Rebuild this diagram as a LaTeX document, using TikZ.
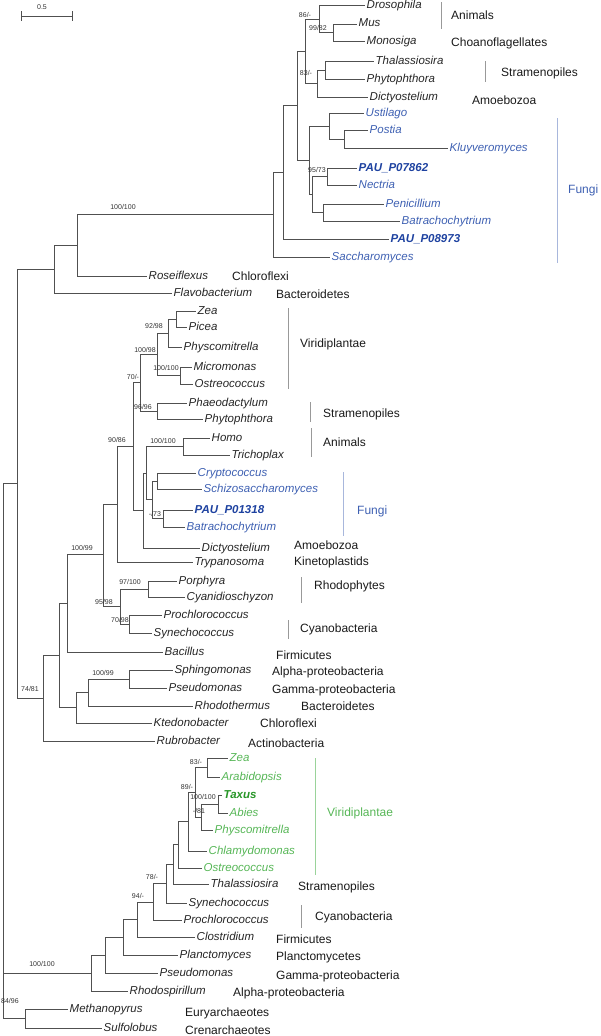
\documentclass[tikz,border=0pt]{standalone}
\usepackage{fontspec}
\setmainfont{Liberation Sans}
\usepackage{xcolor}
\usepackage{tikz}
\definecolor{fungiblue}{RGB}{62,96,178}
\definecolor{paublue}{RGB}{30,66,160}
\definecolor{plantgreen}{RGB}{86,182,86}
\definecolor{taxusgreen}{RGB}{40,150,40}
\definecolor{branchgray}{RGB}{80,80,80}

\begin{document}
\begin{tikzpicture}[x=1pt,y=-1pt,
  branch/.style={draw=branchgray,line width=0.8pt},
  taxon/.style={anchor=west,inner sep=1.5pt,text height=8.5pt,text depth=2.5pt,
    font=\fontsize{11.5}{12}\selectfont\itshape,text=black!85},
  fungus/.style={taxon,text=fungiblue},
  pau/.style={taxon,text=paublue,font=\fontsize{11.5}{12}\selectfont\bfseries\itshape},
  plant/.style={taxon,text=plantgreen},
  taxus/.style={taxon,text=taxusgreen,font=\fontsize{11.5}{12}\selectfont\bfseries\itshape},
  group/.style={anchor=west,inner sep=0pt,font=\fontsize{12}{13}\selectfont,text=black!90},
  boot/.style={inner sep=0pt,font=\fontsize{7}{7}\selectfont,text=black!80},
  bar/.style={draw=black!40,line width=0.8pt}]
  \useasboundingbox (0,0) rectangle (600,1036);

  % scale bar
  \draw[branch] (21,16) -- (72,16);
  \draw[branch] (21,11) -- (21,21);
  \draw[branch] (72,11) -- (72,21);
  \node[boot] (scale) at (42,7) {0.5};

  % upper clade: taxa
  \node[taxon] (dros) at (365,5.5) {Drosophila};
  \node[taxon] (mus) at (357,24) {Mus};
  \node[taxon] (monosiga) at (365,41) {Monosiga};
  \node[taxon] (thal1) at (374,61) {Thalassiosira};
  \node[taxon] (phyt1) at (365,79) {Phytophthora};
  \node[taxon] (dicty1) at (368,97) {Dictyostelium};
  \node[fungus] (ustilago) at (364,113) {Ustilago};
  \node[fungus] (postia) at (368,130) {Postia};
  \node[fungus] (kluyv) at (448,148) {Kluyveromyces};
  \node[pau] (pau7862) at (357,168) {PAU\_P07862};
  \node[fungus] (nectria) at (357,185) {Nectria};
  \node[fungus] (penic) at (384,204) {Penicillium};
  \node[fungus] (batr1) at (400,221) {Batrachochytrium};
  \node[pau] (pau8973) at (389,239) {PAU\_P08973};
  \node[fungus] (sacch) at (330,257) {Saccharomyces};
  \node[taxon] (roseif) at (147,276) {Roseiflexus};
  \node[taxon] (flavo) at (172,293) {Flavobacterium};

  % middle clade: taxa
  \node[taxon] (zea1) at (196,311) {Zea};
  \node[taxon] (picea) at (187,327) {Picea};
  \node[taxon] (physco1) at (182,347) {Physcomitrella};
  \node[taxon] (micro) at (192,367) {Micromonas};
  \node[taxon] (ostreo1) at (193,384) {Ostreococcus};
  \node[taxon] (phaeo) at (187,403) {Phaeodactylum};
  \node[taxon] (phyt2) at (203,419) {Phytophthora};
  \node[taxon] (homo) at (210,438) {Homo};
  \node[taxon] (tricho) at (230,455) {Trichoplax};
  \node[fungus] (crypto) at (196,473) {Cryptococcus};
  \node[fungus] (schizo) at (202,489) {Schizosaccharomyces};
  \node[pau] (pau1318) at (193,510) {PAU\_P01318};
  \node[fungus] (batr2) at (185,527) {Batrachochytrium};
  \node[taxon] (dicty2) at (200,548) {Dictyostelium};
  \node[taxon] (trypano) at (193,562) {Trypanosoma};
  \node[taxon] (porphyra) at (177,581) {Porphyra};
  \node[taxon] (cyanid) at (185,597) {Cyanidioschyzon};
  \node[taxon] (prochl1) at (162,615) {Prochlorococcus};
  \node[taxon] (synech1) at (152,633) {Synechococcus};
  \node[taxon] (bacillus) at (163,652) {Bacillus};
  \node[taxon] (sphingo) at (173,670) {Sphingomonas};
  \node[taxon] (pseudo1) at (167,688) {Pseudomonas};
  \node[taxon] (rhodoth) at (193,706) {Rhodothermus};
  \node[taxon] (ktedono) at (152,723) {Ktedonobacter};
  \node[taxon] (rubro) at (155,741) {Rubrobacter};

  % lower clade: taxa
  \node[plant] (zea2) at (228,758) {Zea};
  \node[plant] (arabid) at (220,777) {Arabidopsis};
  \node[taxus] (taxus) at (222,795) {Taxus};
  \node[plant] (abies) at (228,813) {Abies};
  \node[plant] (physco2) at (213,830) {Physcomitrella};
  \node[plant] (chlamy) at (207,851) {Chlamydomonas};
  \node[plant] (ostreo2) at (202,868) {Ostreococcus};
  \node[taxon] (thal2) at (209,884) {Thalassiosira};
  \node[taxon] (synech2) at (187,903) {Synechococcus};
  \node[taxon] (prochl2) at (182,920) {Prochlorococcus};
  \node[taxon] (clostr) at (195,937) {Clostridium};
  \node[taxon] (plancto) at (178,955) {Planctomyces};
  \node[taxon] (pseudo2) at (158,973) {Pseudomonas};
  \node[taxon] (rhodosp) at (128,991) {Rhodospirillum};
  \node[taxon] (methano) at (68,1009) {Methanopyrus};
  \node[taxon] (sulfo) at (102,1028) {Sulfolobus};

  % internal nodes
  \coordinate (n1) at (333,32.5);
  \coordinate (n2) at (319,19);
  \coordinate (n3) at (325,70);
  \coordinate (n4) at (317,83.5);
  \coordinate (n5) at (305,51.25);
  \coordinate (n6) at (344,139);
  \coordinate (n7) at (329,126);
  \coordinate (n8) at (327,176.5);
  \coordinate (n9) at (323,212.5);
  \coordinate (n10) at (312,194.5);
  \coordinate (n11) at (309,160.25);
  \coordinate (n12) at (297,105.75);
  \coordinate (n13) at (283,172.4);
  \coordinate (n14) at (273,214.7);
  \coordinate (n15) at (77,245.35);
  \coordinate (n16) at (54,269.2);
  \coordinate (n17) at (17,483.75);
  \coordinate (m1) at (176,319);
  \coordinate (m2) at (168,333);
  \coordinate (m3) at (180,375.5);
  \coordinate (m4) at (157,354.25);
  \coordinate (m5) at (157,411);
  \coordinate (m6) at (140,382.5);
  \coordinate (m7) at (183,446.5);
  \coordinate (m8) at (157,481);
  \coordinate (m9) at (163,518.5);
  \coordinate (m10) at (152,499.75);
  \coordinate (m11) at (146,473.25);
  \coordinate (m12) at (143,510.5);
  \coordinate (m13) at (133,446.5);
  \coordinate (m14) at (117,504.25);
  \coordinate (m15) at (148,589);
  \coordinate (m16) at (129,624);
  \coordinate (m17) at (120,606.5);
  \coordinate (m18) at (103,554.75);
  \coordinate (m19) at (67,603.5);
  \coordinate (m20) at (129,679);
  \coordinate (m21) at (88,692.5);
  \coordinate (m22) at (76,707.75);
  \coordinate (m23) at (59,655.75);
  \coordinate (m24) at (43,698.5);
  \coordinate (b1) at (207,767.5);
  \coordinate (b2) at (218,804);
  \coordinate (b3) at (201,817);
  \coordinate (b4) at (195,792.25);
  \coordinate (b5) at (188,821.6);
  \coordinate (b6) at (178,844.8);
  \coordinate (b7) at (173,864.4);
  \coordinate (b8) at (166,883.7);
  \coordinate (b9) at (153,901.9);
  \coordinate (b10) at (137,919.4);
  \coordinate (b11) at (123,937.2);
  \coordinate (b12) at (105,955.1);
  \coordinate (b13) at (91,973);
  \coordinate (b14) at (25,1018.5);
  \coordinate (root) at (3,483.75);

  % branches
  \foreach \p/\c in {n1/mus,n1/monosiga,n2/dros,n2/n1,n3/thal1,n3/phyt1,n4/n3,n4/dicty1,
      n5/n2,n5/n4,n6/postia,n6/kluyv,n7/ustilago,n7/n6,n8/pau7862,n8/nectria,
      n9/penic,n9/batr1,n10/n8,n10/n9,n11/n7,n11/n10,n12/n5,n12/n11,
      n13/n12,n13/pau8973,n14/n13,n14/sacch,n15/n14,n15/roseif,n16/n15,n16/flavo,
      n17/n16,n17/m24,root/n17,root/b13,root/b14}
    \draw[branch] (\p) |- (\c);
  \foreach \p/\c in {m1/zea1,m1/picea,m2/m1,m2/physco1,m3/micro,m3/ostreo1,m4/m2,m4/m3,
      m5/phaeo,m5/phyt2,m6/m4,m6/m5,m7/homo,m7/tricho,m8/crypto,m8/schizo,
      m9/pau1318,m9/batr2,m10/m8,m10/m9,m11/m7,m11/m10,m12/m11,m12/dicty2,
      m13/m6,m13/m12,m14/m13,m14/trypano,m15/porphyra,m15/cyanid,
      m16/prochl1,m16/synech1,m17/m15,m17/m16,m18/m14,m18/m17,m19/m18,m19/bacillus,
      m20/sphingo,m20/pseudo1,m21/m20,m21/rhodoth,m22/m21,m22/ktedono,
      m23/m19,m23/m22,m24/m23,m24/rubro}
    \draw[branch] (\p) |- (\c);
  \foreach \p/\c in {b1/zea2,b1/arabid,b2/taxus,b2/abies,b3/b2,b3/physco2,b4/b1,b4/b3,
      b5/b4,b5/chlamy,b6/b5,b6/ostreo2,b7/b6,b7/thal2,b8/b7,b8/synech2,
      b9/b8,b9/prochl2,b10/b9,b10/clostr,b11/b10,b11/plancto,b12/b11,b12/pseudo2,
      b13/b12,b13/rhodosp,b14/methano,b14/sulfo}
    \draw[branch] (\p) |- (\c);

  % bootstrap values
  \foreach \t/\x/\y [count=\i] in {{86/-}/305/15,{99/82}/318/28,{83/-}/306/73,{95/73}/317/170,
      {100/100}/123/207,{92/98}/154/326,{100/98}/145/350,{100/100}/166/368,{70/-}/133/377,
      {96/96}/143/407,{90/86}/117/440,{100/100}/163/441,{-/73}/155/514,{100/99}/82/548,
      {97/100}/130/582,{95/98}/104/602,{70/98}/120/620,{100/99}/103/673,{74/81}/30/689,
      {83/-}/196/762,{89/-}/187/787,{100/100}/203/797,{-/81}/199/811,{78/-}/152/877,
      {94/-}/138/896,{100/100}/42/964}
    \node[boot] (bs\i) at (\x,\y) {\t};
  \node[boot,anchor=west] (bs27) at (1,1001) {84/96};

  % group bars
  \draw[bar] (441,2) -- (441,29);
  \draw[bar] (485,61) -- (485,82);
  \draw[bar,draw=fungiblue!45] (557,118) -- (557,263);
  \draw[bar] (288,308) -- (288,389);
  \draw[bar] (310,402) -- (310,422);
  \draw[bar] (311,428) -- (311,457);
  \draw[bar,draw=fungiblue!45] (343,472) -- (343,536);
  \draw[bar] (301,577) -- (301,603);
  \draw[bar] (288,620) -- (288,639);
  \draw[bar,draw=plantgreen!60] (315,758) -- (315,875);
  \draw[bar] (301,905) -- (301,928);

  % group names
  \node[group] (g1) at (451,15) {Animals};
  \node[group] (g2) at (451,43) {Choanoflagellates};
  \node[group] (g3) at (501,73) {Stramenopiles};
  \node[group] (g4) at (472,100) {Amoebozoa};
  \node[group,text=fungiblue] (g5) at (568,190) {Fungi};
  \node[group] (g6) at (232,276) {Chloroflexi};
  \node[group] (g7) at (276,294) {Bacteroidetes};
  \node[group] (g8) at (300,344) {Viridiplantae};
  \node[group] (g9) at (323,414) {Stramenopiles};
  \node[group] (g10) at (323,442) {Animals};
  \node[group,text=fungiblue] (g11) at (357,511) {Fungi};
  \node[group] (g12) at (294,545) {Amoebozoa};
  \node[group] (g13) at (294,562) {Kinetoplastids};
  \node[group] (g14) at (314,586) {Rhodophytes};
  \node[group] (g15) at (300,629) {Cyanobacteria};
  \node[group] (g16) at (276,655) {Firmicutes};
  \node[group] (g17) at (272,672) {Alpha-proteobacteria};
  \node[group] (g18) at (272,690) {Gamma-proteobacteria};
  \node[group] (g19) at (301,706) {Bacteroidetes};
  \node[group] (g20) at (260,723) {Chloroflexi};
  \node[group] (g21) at (248,743) {Actinobacteria};
  \node[group,text=plantgreen] (g22) at (327,813) {Viridiplantae};
  \node[group] (g23) at (298,887) {Stramenopiles};
  \node[group] (g24) at (315,917) {Cyanobacteria};
  \node[group] (g25) at (276,939) {Firmicutes};
  \node[group] (g26) at (276,957) {Planctomycetes};
  \node[group] (g27) at (276,976) {Gamma-proteobacteria};
  \node[group] (g28) at (233,993) {Alpha-proteobacteria};
  \node[group] (g29) at (185,1013) {Euryarchaeotes};
  \node[group] (g30) at (185,1030) {Crenarchaeotes};
\end{tikzpicture}
\end{document}
